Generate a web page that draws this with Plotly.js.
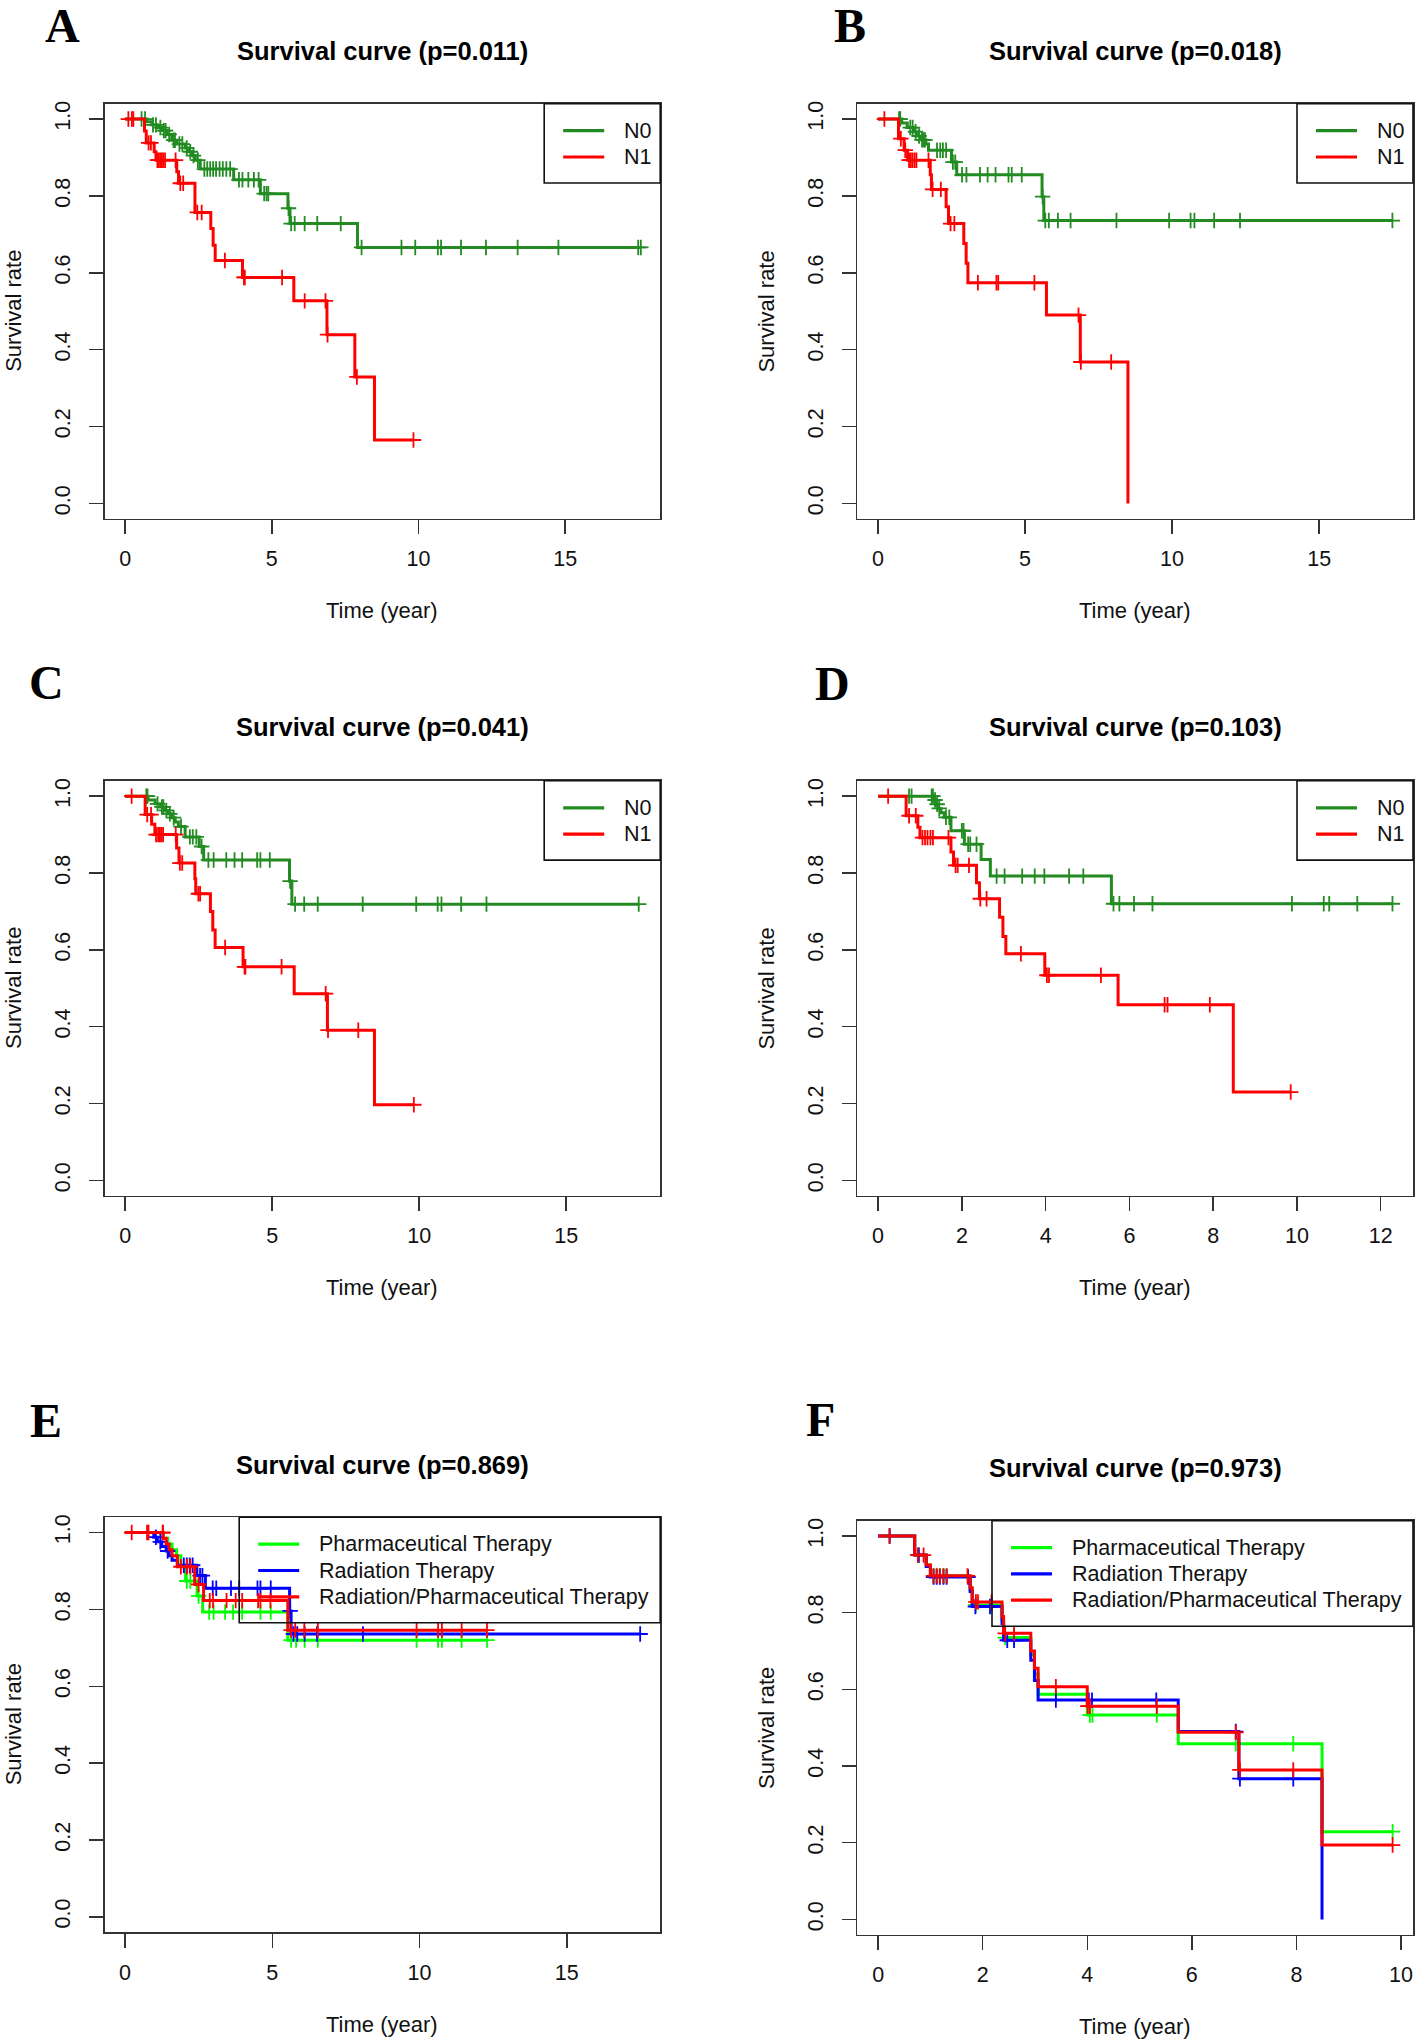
<!DOCTYPE html>
<html>
<head>
<meta charset="utf-8">
<script src="https://cdn.plot.ly/plotly-3.0.1.min.js"></script>
<style>
  body { margin: 0; background: #fff; }
  #fig { width: 1418px; height: 2044px; }
</style>
</head>
<body>
<div id="fig"></div>
<script>
// ---- data: step times (t), survival after each step (s), censor times (cens)

// A
var aN0_t = [0, 0.74, 0.91, 1.10, 1.25, 1.42, 1.59, 1.76, 2.05, 2.16, 2.28, 2.39, 2.56, 3.70, 4.61, 5.55, 5.62, 7.92];
var aN0_s = [1, 0.993, 0.985, 0.978, 0.970, 0.960, 0.945, 0.935, 0.925, 0.915, 0.905, 0.893, 0.870, 0.842, 0.806, 0.768, 0.728, 0.666];
var aN0_cens = [0.56, 0.68, 0.95, 1.05, 1.20, 1.32, 1.38, 1.50, 1.65, 1.70, 1.85, 1.95, 2.10, 2.22, 2.33, 2.48, 2.70, 2.80, 2.90, 3.00, 3.10, 3.22, 3.33, 3.45, 3.58, 3.88, 4.00, 4.20, 4.39, 4.55, 4.74, 4.82, 4.88, 5.57, 5.66, 5.78, 6.12, 6.55, 7.35, 8.06, 9.42, 9.89, 10.66, 10.77, 11.45, 12.30, 13.38, 14.77, 17.49, 17.58];
var aN1_t = [0, 0.66, 0.72, 0.99, 1.05, 1.76, 1.82, 2.38, 2.92, 3.00, 3.07, 4.00, 5.75, 6.88, 7.83, 8.50];
var aN1_s = [1, 0.969, 0.938, 0.915, 0.893, 0.863, 0.833, 0.757, 0.715, 0.672, 0.632, 0.588, 0.527, 0.439, 0.329, 0.165];
var aN1_cens = [0.11, 0.23, 0.28, 0.80, 0.88, 1.10, 1.15, 1.20, 1.25, 1.30, 1.36, 1.72, 1.88, 1.98, 2.46, 2.61, 3.40, 4.05, 4.08, 5.35, 6.12, 6.83, 6.90, 7.90, 9.83];

// B
var bN0_t = [0, 0.81, 1.00, 1.23, 1.34, 1.46, 1.63, 1.72, 2.50, 2.68, 5.58, 5.64];
var bN0_s = [1, 0.990, 0.978, 0.967, 0.956, 0.946, 0.935, 0.919, 0.888, 0.855, 0.798, 0.736];
var bN0_cens = [0.72, 0.76, 1.10, 1.18, 1.28, 1.40, 1.50, 1.55, 1.60, 2.01, 2.12, 2.21, 2.32, 2.55, 2.63, 2.86, 3.01, 3.47, 3.73, 4.00, 4.44, 4.55, 4.89, 5.60, 5.69, 5.81, 6.12, 6.55, 8.11, 9.90, 10.63, 10.76, 11.43, 12.31, 17.49];
var bN1_t = [0, 0.70, 0.89, 1.01, 1.78, 1.82, 2.32, 2.40, 2.92, 3.00, 3.06, 5.73, 6.88, 8.50];
var bN1_s = [1, 0.949, 0.919, 0.893, 0.855, 0.817, 0.772, 0.728, 0.676, 0.625, 0.574, 0.490, 0.368, 0];
var bN1_cens = [0.22, 0.78, 0.93, 1.06, 1.12, 1.18, 1.25, 1.31, 1.72, 1.86, 2.14, 2.47, 2.60, 3.40, 4.03, 4.09, 5.32, 6.82, 6.90, 7.93];

// C
var cN0_t = [0, 0.78, 1.02, 1.20, 1.36, 1.47, 1.58, 1.70, 1.81, 2.04, 2.52, 2.67, 5.59, 5.67];
var cN0_s = [1, 0.990, 0.980, 0.972, 0.963, 0.954, 0.944, 0.933, 0.921, 0.894, 0.869, 0.834, 0.779, 0.719];
var cN0_cens = [0.72, 0.76, 1.10, 1.25, 1.30, 1.40, 1.52, 1.65, 1.90, 2.20, 2.30, 2.42, 2.60, 2.83, 3.01, 3.44, 3.72, 3.98, 4.49, 4.60, 4.92, 5.61, 5.78, 6.09, 6.55, 8.08, 9.90, 10.63, 10.76, 11.43, 12.29, 17.47];
var cN1_t = [0, 0.68, 0.90, 1.01, 1.75, 1.83, 2.37, 2.40, 2.90, 2.98, 3.06, 4.01, 5.75, 6.88, 8.48];
var cN1_s = [1, 0.952, 0.927, 0.900, 0.865, 0.826, 0.785, 0.746, 0.700, 0.652, 0.606, 0.556, 0.486, 0.391, 0.197];
var cN1_cens = [0.22, 0.75, 0.88, 1.05, 1.12, 1.18, 1.23, 1.29, 1.72, 1.86, 1.94, 2.49, 2.55, 3.40, 4.06, 4.09, 5.32, 6.82, 6.90, 7.93, 9.82];

// D
var dN0_t = [0, 1.33, 1.38, 1.43, 1.50, 1.58, 1.74, 2.06, 2.46, 2.68, 5.57];
var dN0_s = [1, 0.990, 0.979, 0.968, 0.957, 0.945, 0.910, 0.875, 0.835, 0.792, 0.720];
var dN0_cens = [0.74, 0.80, 1.28, 1.31, 1.36, 1.41, 1.46, 1.62, 1.70, 2.00, 2.04, 2.15, 2.20, 2.35, 2.83, 3.02, 3.44, 3.74, 3.97, 4.56, 4.90, 5.62, 5.76, 6.11, 6.55, 9.88, 10.64, 10.77, 11.44, 12.28];
var dN1_t = [0, 0.67, 0.95, 1.00, 1.74, 1.80, 2.35, 2.42, 2.90, 2.98, 3.05, 3.98, 5.73, 8.48];
var dN1_s = [1, 0.949, 0.919, 0.892, 0.855, 0.820, 0.775, 0.733, 0.685, 0.635, 0.590, 0.534, 0.457, 0.230];
var dN1_cens = [0.24, 0.74, 0.90, 1.06, 1.12, 1.18, 1.25, 1.31, 1.68, 1.85, 1.90, 2.17, 2.44, 2.59, 3.41, 4.03, 4.08, 5.32, 6.84, 6.91, 7.92, 9.85];

// E
var ePh_t = [0, 1.30, 1.45, 1.60, 1.75, 1.90, 2.06, 2.45, 2.64, 5.53];
var ePh_s = [1, 0.985, 0.970, 0.955, 0.940, 0.915, 0.874, 0.835, 0.793, 0.720];
var ePh_cens = [2.10, 2.22, 2.50, 2.86, 3.01, 3.40, 3.67, 3.98, 4.60, 4.95, 5.64, 5.81, 6.10, 6.55, 9.90, 10.63, 10.76, 11.43, 12.29];
var eRa_t = [0, 0.98, 1.10, 1.25, 1.40, 1.50, 1.60, 1.78, 2.44, 2.73, 5.59, 5.64];
var eRa_s = [1, 0.988, 0.976, 0.964, 0.952, 0.940, 0.928, 0.915, 0.888, 0.855, 0.796, 0.736];
var eRa_cens = [1.05, 1.20, 1.45, 2.00, 2.10, 2.20, 2.30, 2.55, 2.63, 2.98, 3.10, 3.60, 3.88, 4.50, 4.60, 4.95, 5.61, 5.72, 5.85, 6.10, 6.52, 8.08, 17.49];
var eRP_t = [0, 1.30, 1.40, 1.50, 1.60, 1.78, 2.37, 2.67, 5.53];
var eRP_s = [1, 0.985, 0.970, 0.955, 0.940, 0.911, 0.865, 0.823, 0.746];
var eRP_cens = [0.23, 0.75, 0.80, 1.28, 1.29, 1.90, 2.10, 2.22, 2.50, 2.88, 2.99, 3.45, 3.76, 3.98, 4.52, 4.60, 4.94, 5.64, 5.78, 6.09, 6.55, 9.90, 10.63, 10.76, 11.43, 12.29];

// F
var fPh_t = [0, 0.70, 0.92, 1.00, 1.76, 1.80, 2.37, 2.40, 2.92, 2.99, 3.06, 4.00, 5.74, 8.49];
var fPh_s = [1, 0.950, 0.924, 0.896, 0.860, 0.820, 0.780, 0.735, 0.690, 0.640, 0.587, 0.533, 0.458, 0.229];
var fPh_cens = [0.22, 0.76, 1.06, 1.12, 1.18, 1.25, 1.31, 1.87, 2.17, 2.43, 2.60, 3.40, 4.05, 4.10, 5.33, 6.84, 7.94, 9.84];
var fRa_t = [0, 0.70, 0.92, 1.00, 1.76, 1.80, 2.37, 2.40, 2.92, 2.99, 3.06, 5.74, 6.90, 8.49];
var fRa_s = [1, 0.950, 0.920, 0.893, 0.855, 0.816, 0.772, 0.728, 0.676, 0.623, 0.572, 0.490, 0.367, 0];
var fRa_cens = [0.22, 0.78, 1.06, 1.12, 1.18, 1.25, 1.31, 1.72, 1.86, 2.14, 2.47, 2.60, 3.40, 4.03, 4.09, 5.32, 6.84, 6.92, 7.94];
var fRP_t = [0, 0.70, 0.92, 1.00, 1.76, 1.80, 2.37, 2.40, 2.92, 2.99, 3.06, 4.00, 5.74, 6.90, 8.49];
var fRP_s = [1, 0.950, 0.924, 0.896, 0.865, 0.828, 0.790, 0.746, 0.700, 0.655, 0.607, 0.556, 0.488, 0.390, 0.194];
var fRP_cens = [0.22, 0.76, 0.87, 1.06, 1.12, 1.18, 1.25, 1.31, 1.71, 1.87, 1.91, 2.17, 2.43, 2.60, 3.40, 4.01, 4.05, 5.33, 6.84, 6.92, 7.94, 9.84];

// labels
var panelLetters = ["A", "B", "C", "D", "E", "F"];
var pValues = ["0.011", "0.018", "0.041", "0.103", "0.869", "0.973"];
var stageNames = ["N0", "N1"];
var therapyNames = ["Pharmaceutical Therapy", "Radiation Therapy", "Radiation/Pharmaceutical Therapy"];
var yTicks = [0, 0.2, 0.4, 0.6, 0.8, 1.0];

// ---- layout geometry (pixels of the 1418x2044 page)
var W = 1418, H = 2044;
var FONT = "Liberation Sans, Arial, Helvetica, sans-serif";
var GREEN = "#228B22", RED = "#FF0000", LGREEN = "#00FF00", BLUE = "#0000FF";

var panels = [
  { box: {l: 104.6, r: 660.2, t: 103.7, b: 518.8}, xr: [-0.70, 18.24], dt: 5, titleY: 51, letter: [62, 26],
    series: [[aN0_t, aN0_s, aN0_cens, GREEN], [aN1_t, aN1_s, aN1_cens, RED]], names: stageNames },
  { box: {l: 857.3, r: 1413, t: 103.7, b: 518.8}, xr: [-0.70, 18.19], dt: 5, titleY: 51, letter: [850, 26],
    series: [[bN0_t, bN0_s, bN0_cens, GREEN], [bN1_t, bN1_s, bN1_cens, RED]], names: stageNames },
  { box: {l: 104.6, r: 660.2, t: 780.8, b: 1195.8}, xr: [-0.70, 18.2], dt: 5, titleY: 727, letter: [46, 682],
    series: [[cN0_t, cN0_s, cN0_cens, GREEN], [cN1_t, cN1_s, cN1_cens, RED]], names: stageNames },
  { box: {l: 857.3, r: 1413, t: 780.8, b: 1195.8}, xr: [-0.496, 12.77], dt: 2, titleY: 727, letter: [832, 683],
    series: [[dN0_t, dN0_s, dN0_cens, GREEN], [dN1_t, dN1_s, dN1_cens, RED]], names: stageNames },
  { box: {l: 104.6, r: 660.2, t: 1517.2, b: 1932.2}, xr: [-0.69, 18.17], dt: 5, titleY: 1465, letter: [46, 1420],
    series: [[ePh_t, ePh_s, ePh_cens, LGREEN], [eRa_t, eRa_s, eRa_cens, BLUE], [eRP_t, eRP_s, eRP_cens, RED]], names: therapyNames },
  { box: {l: 857.3, r: 1413, t: 1520.6, b: 1934.8}, xr: [-0.398, 10.23], dt: 2, titleY: 1468, letter: [820, 1419],
    series: [[fPh_t, fPh_s, fPh_cens, LGREEN], [fRa_t, fRa_s, fRa_cens, BLUE], [fRP_t, fRP_s, fRP_cens, RED]], names: therapyNames }
];

function px(x) { return x / W; }
function py(y) { return 1 - y / H; }

// survival value at time c
function survAt(t, s, c) {
  var v = s[0];
  for (var i = 0; i < t.length; i++) { if (t[i] <= c) v = s[i]; }
  return v;
}

var traces = [];
var layout = {
  width: W, height: H,
  margin: {l: 0, r: 0, t: 0, b: 0},
  paper_bgcolor: "#fff", plot_bgcolor: "#fff",
  showlegend: false,
  font: {family: FONT, size: 21, color: "#111"},
  shapes: [], annotations: []
};

for (var p = 0; p < panels.length; p++) {
  var P = panels[p];
  var k = p === 0 ? "" : String(p + 1);
  var xa = "x" + k, ya = "y" + k;

  layout["xaxis" + k] = {
    domain: [px(P.box.l), px(P.box.r)], anchor: ya, range: P.xr,
    tick0: 0, dtick: P.dt, ticks: "outside", ticklen: 14, tickwidth: 1.4, tickcolor: "#333",
    showline: true, mirror: true, linecolor: "#333", linewidth: 1.6,
    showgrid: false, zeroline: false, ticklabelstandoff: 6,
    tickfont: {family: FONT, size: 21.5, color: "#111"}
  };
  layout["yaxis" + k] = {
    domain: [py(P.box.b), py(P.box.t)], anchor: xa, range: [-0.04, 1.04],
    tickvals: yTicks, tickformat: ".1f", tickangle: -90,
    ticks: "outside", ticklen: 14, tickwidth: 1.4, tickcolor: "#333",
    showline: true, mirror: true, linecolor: "#333", linewidth: 1.6,
    showgrid: false, zeroline: false, ticklabelstandoff: 10,
    tickfont: {family: FONT, size: 21.5, color: "#111"}
  };

  // curves
  for (var j = 0; j < P.series.length; j++) {
    var t = P.series[j][0], s = P.series[j][1], cens = P.series[j][2], col = P.series[j][3];
    var end = Math.max(t[t.length - 1], Math.max.apply(null, cens));
    traces.push({
      x: t.concat([end]), y: s.concat([s[s.length - 1]]),
      xaxis: xa, yaxis: ya, mode: "lines", name: P.names[j],
      line: {shape: "hv", color: col, width: 3}, hoverinfo: "skip"
    });
    traces.push({
      x: cens, y: cens.map(function (c) { return survAt(t, s, c); }),
      xaxis: xa, yaxis: ya, mode: "markers", name: P.names[j] + " censored",
      marker: {symbol: "cross-thin", size: 11, color: col, line: {color: col, width: 1.8}},
      hoverinfo: "skip", cliponaxis: false
    });
  }

  var cx = (P.box.l + P.box.r) / 2, cy = (P.box.t + P.box.b) / 2;
  // panel title, letter, axis titles
  layout.annotations.push({
    xref: "paper", yref: "paper", x: px(cx), y: py(P.titleY), xanchor: "center", yanchor: "middle",
    text: "<b>Survival curve (p=" + pValues[p] + ")</b>", showarrow: false,
    font: {family: FONT, size: 25.5, color: "#000"}
  });
  layout.annotations.push({
    xref: "paper", yref: "paper", x: px(P.letter[0]), y: py(P.letter[1]), xanchor: "center", yanchor: "middle",
    text: "<b>" + panelLetters[p] + "</b>", showarrow: false,
    font: {family: "Liberation Serif, Times New Roman, serif", size: 48, color: "#000"}
  });
  layout.annotations.push({
    xref: "paper", yref: "paper", x: px(cx), y: py(P.box.b + 92), xanchor: "center", yanchor: "middle",
    text: "Time (year)", showarrow: false, font: {family: FONT, size: 22, color: "#111"}
  });
  layout.annotations.push({
    xref: "paper", yref: "paper", x: px(P.box.l - 91), y: py(cy), xanchor: "center", yanchor: "middle",
    text: "Survival rate", textangle: -90, showarrow: false, font: {family: FONT, size: 22, color: "#111"}
  });

  // legend box, drawn like R's legend()
  var n = P.names.length;
  var lw = n === 2 ? 116 : 421;
  var ll = P.box.r - lw, lb = P.box.t + 27 + 26.3 * (n - 1) + 26;
  layout.shapes.push({
    type: "rect", xref: "paper", yref: "paper",
    x0: px(ll), x1: px(P.box.r), y0: py(P.box.t), y1: py(lb),
    line: {color: "#111", width: 1.6}, fillcolor: "rgba(0,0,0,0)"
  });
  for (var j = 0; j < n; j++) {
    var ey = P.box.t + 27 + 26.3 * j;
    layout.shapes.push({
      type: "line", xref: "paper", yref: "paper",
      x0: px(ll + 19), x1: px(ll + 60), y0: py(ey), y1: py(ey),
      line: {color: P.series[j][3], width: 3.2}
    });
    layout.annotations.push({
      xref: "paper", yref: "paper", x: px(ll + 78), y: py(ey), xanchor: "left", yanchor: "middle",
      text: P.names[j], showarrow: false, font: {family: FONT, size: 21.5, color: "#111"}
    });
  }
}

Plotly.newPlot("fig", traces, layout, {displayModeBar: false, staticPlot: true});
</script>
</body>
</html>
